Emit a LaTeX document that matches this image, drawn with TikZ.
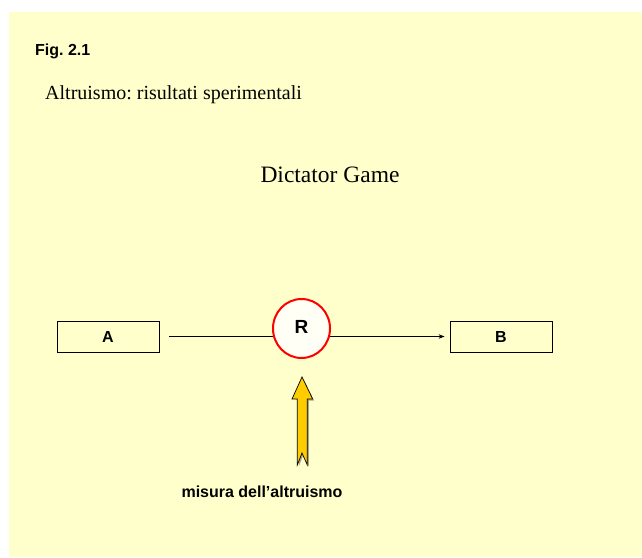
\documentclass[tikz,border=0pt]{standalone}
\usepackage{fontspec}
\setmainfont{Liberation Serif}
\newfontfamily\arialf{Liberation Sans}
\usetikzlibrary{shapes.geometric,shadows,arrows.meta}
\frenchspacing
\definecolor{bgyellow}{HTML}{FFFFCC}
\definecolor{arrowgold}{HTML}{FFCC00}
\definecolor{shadowolive}{HTML}{6E6E48}
\definecolor{ellfill}{HTML}{FFFFF5}
\tikzset{
  agentbox/.style={draw=black, line width=0.8pt, fill=bgyellow, minimum width=102pt, minimum height=31pt, inner sep=0pt,
    font=\arialf\bfseries\fontsize{16}{16}\selectfont,
    general shadow={fill=shadowolive, shadow xshift=0.9pt, shadow yshift=-1.4pt}},
  ruleell/.style={ellipse, draw=red, line width=2pt, fill=ellfill, minimum width=57pt, minimum height=59pt, inner sep=0pt,
    font=\arialf\bfseries\fontsize{19}{19}\selectfont},
  flowline/.style={draw=black, line width=0.8pt},
  labeltext/.style={inner sep=0pt, anchor=base},
}
\begin{document}
\begin{tikzpicture}[x=1pt,y=-1pt]
\useasboundingbox (0,0) rectangle (642,557);
\fill[bgyellow] (9,12) rectangle (642,557);

\node[labeltext, anchor=base west, font=\arialf\bfseries\fontsize{16}{16}\selectfont] (fig) at (35,55) {Fig. 2.1};
\node[labeltext, anchor=base west, font=\fontsize{20}{20}\selectfont] (title) at (45,99.3) {Altruismo: risultati sperimentali};
\node[labeltext, font=\fontsize{23.5}{23.5}\selectfont] (game) at (330,182) {Dictator Game};

\node[agentbox] (A) at (108,336.5) {A};
\node[agentbox] (B) at (501,336.5) {B};
\node[ruleell] (R) at (301.5,328.5) {\raisebox{2.5pt}{R}};

\draw[flowline] ([xshift=10pt]A.east) -- (A.east -| R.195.7);
\draw[flowline, -{Stealth[length=6pt,width=4.5pt]}] (A.east -| R.-15.7) -- ([xshift=-5pt]B.west);

\node[labeltext, font=\arialf\bfseries\fontsize{16}{16}\selectfont] (meas) at (262,497.5) {misura dell’altruismo};

\fill[shadowolive!60] (303.2,378.5) -- (314,400.5) -- (308.8,400.5) -- (308.8,466.5) -- (303.5,454.5) -- (298.8,466.5) -- cycle;
\draw[fill=arrowgold, line width=0.7pt] (302,377) -- (312.7,399) -- (307.3,399) -- (307.3,465) -- (302,453) -- (297.3,465) -- (297.3,399) -- (292,399) -- cycle;
\end{tikzpicture}
\end{document}
